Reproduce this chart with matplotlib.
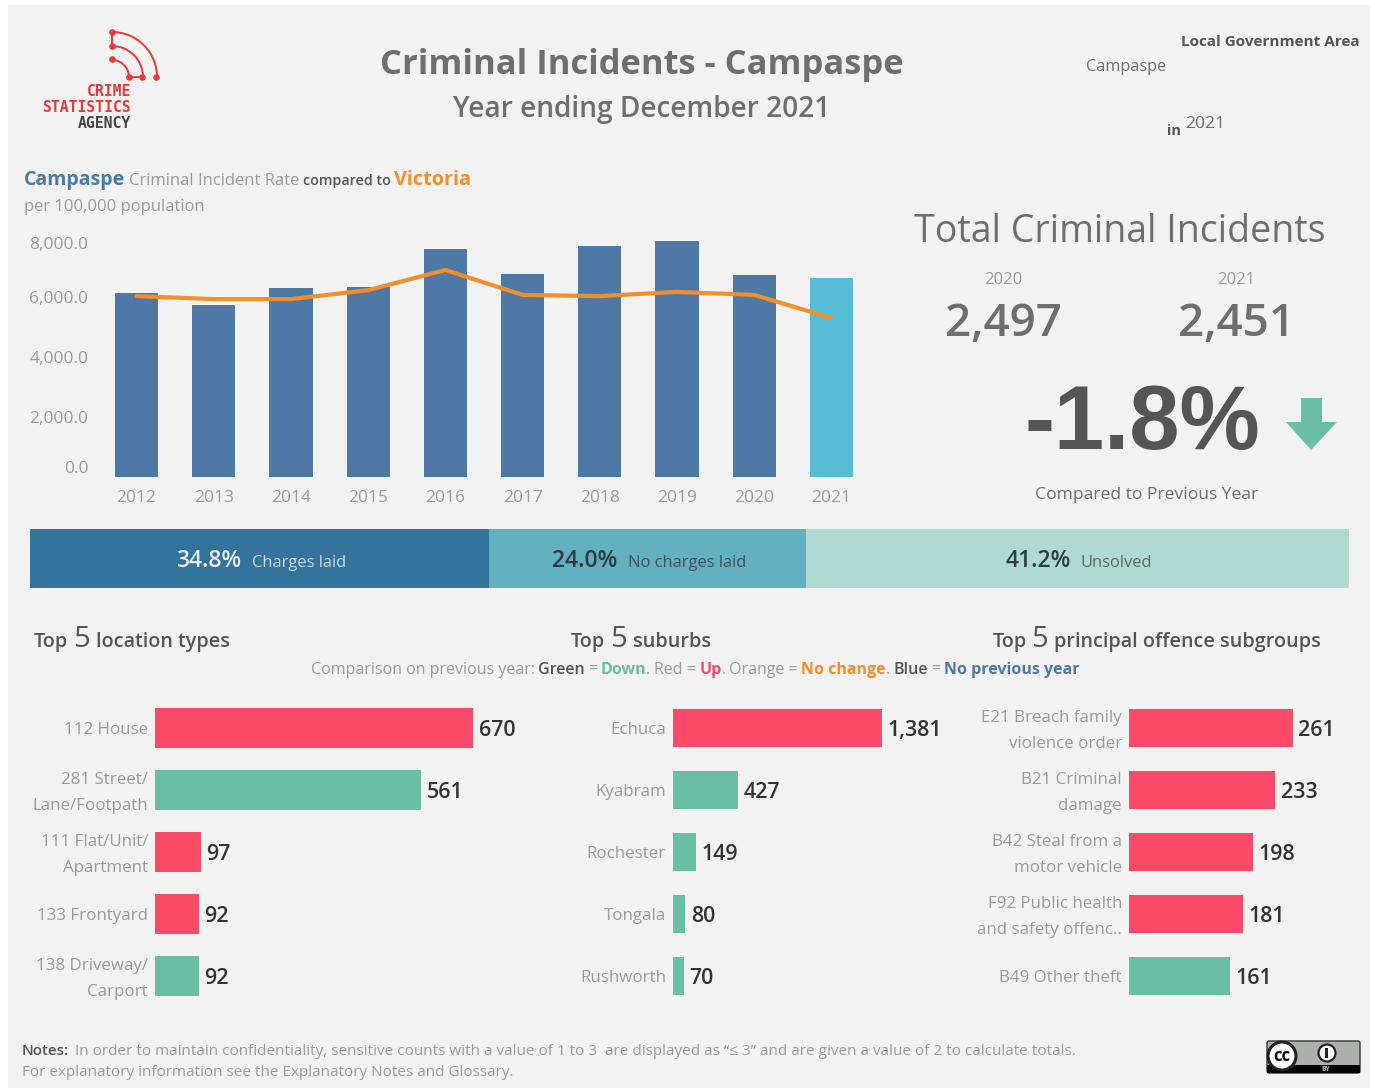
import matplotlib
matplotlib.use("Agg")
import matplotlib.pyplot as plt
from matplotlib.patches import Arc, Circle, FancyBboxPatch, Polygon, Rectangle
from matplotlib.transforms import ScaledTranslation

plt.rcParams["font.family"] = ["Open Sans", "DejaVu Sans"]

W, H = 1375, 1088
BG = "#F2F2F2"
BLUE = "#4E79A7"
CYAN = "#56BCD6"
ORANGE = "#F28E2B"
RED = "#F94A68"
GREEN = "#69BFA4"
DARK = "#555555"
MID = "#6E6E6E"
LIGHT = "#9A9A9A"

years = ["2012", "2013", "2014", "2015", "2016", "2017", "2018", "2019", "2020", "2021"]
campaspe_rate = [6130, 5730, 6300, 6330, 7600, 6770, 7700, 7870, 6730, 6630]
victoria_rate = [6030, 5930, 5930, 6230, 6900, 6070, 6030, 6170, 6070, 5300]
rate_ticks = [0, 2000, 4000, 6000, 8000]

outcome_names = ["Charges laid", "No charges laid", "Unsolved"]
outcome_share = [34.8, 24.0, 41.2]
outcome_colors = ["#33739C", "#63B0C0", "#AEDAD1"]

location_names = ["112 House", "281 Street/\nLane/Footpath", "111 Flat/Unit/\nApartment",
                  "133 Frontyard", "138 Driveway/\nCarport"]
location_counts = [670, 561, 97, 92, 92]
location_colors = [RED, GREEN, RED, RED, GREEN]

suburb_names = ["Echuca", "Kyabram", "Rochester", "Tongala", "Rushworth"]
suburb_counts = [1381, 427, 149, 80, 70]
suburb_colors = [RED, GREEN, GREEN, GREEN, GREEN]

offence_names = ["E21 Breach family\nviolence order", "B21 Criminal\ndamage",
                 "B42 Steal from a\nmotor vehicle", "F92 Public health\nand safety offenc..",
                 "B49 Other theft"]
offence_counts = [261, 233, 198, 181, 161]
offence_colors = [RED, RED, RED, RED, GREEN]


def px_axes(left, top, right, bottom):
    return fig.add_axes([left / W, 1 - bottom / H, (right - left) / W, (bottom - top) / H])


def runs(x, y, parts, anchor="left", gap=0.3):
    # one line of mixed styles, measured piece by piece
    r = fig.canvas.get_renderer()
    items = []
    total = 0
    for i, (txt, size, color, weight) in enumerate(parts):
        t = fg.text(0, y, txt, fontsize=size, color=color, fontweight=weight, va="baseline")
        w = t.get_window_extent(r).width
        # no gap in front of a full stop
        if i + 1 < len(parts) and parts[i + 1][0] != ".":
            w += size * gap
        items.append((t, w))
        total += w
    if anchor == "center":
        x = x - total / 2
    for t, w in items:
        t.set_x(x)
        x += w


fig = plt.figure(figsize=(W / 100, H / 100), dpi=100, facecolor="white")
bg = fig.add_axes([0, 0, 1, 1])
bg.set_xlim(0, W)
bg.set_ylim(H, 0)
bg.axis("off")
bg.add_patch(Rectangle((8, 5), 1362, 1083, color=BG, lw=0))
fg = fig.add_axes([0, 0, 1, 1], zorder=5)
fg.set_xlim(0, W)
fg.set_ylim(H, 0)
fg.axis("off")

# logo
LOGO = dict(fontsize=10.6, fontweight="bold", family="DejaVu Sans Mono", ha="right", va="center")
for rad in [45, 31, 17]:
    bg.add_patch(Arc((112, 77), 2 * rad, 2 * rad, theta1=270, theta2=360, color="#E8383A", lw=1.4))
bg.plot([112, 112], [32, 46], color="#E8383A", lw=1.4)
bg.plot([129, 142], [77, 77], color="#E8383A", lw=1.4)
bg.scatter([112, 112, 112, 129, 142, 156], [32, 46, 59, 77, 77, 77], s=14, color="#E8383A", zorder=3)
bg.text(131, 91, "CRIME", color="#E8383A", **LOGO)
bg.text(131, 108, "STATISTICS", color="#E8383A", **LOGO)
bg.text(131, 124, "AGENCY", color="#444444", **LOGO)

# header
bg.text(642, 65, "Criminal Incidents - Campaspe", fontsize=24.8, fontweight="bold", color=MID, ha="center", va="center")
bg.text(642, 109, "Year ending December 2021", fontsize=20.2, fontweight="semibold", color=MID, ha="center", va="center")
bg.text(1360, 42, "Local Government Area", fontsize=11, fontweight="bold", color=DARK, ha="right", va="center")
bg.text(1126, 67, "Campaspe", fontsize=11.7, color=MID, ha="center", va="center")
bg.text(1167, 131, "in", fontsize=10.5, fontweight="bold", color=DARK, va="center")
bg.text(1185, 124, "2021", fontsize=12.5, color=MID, va="center")

# rate chart heading
runs(24, 185, [("Campaspe", 14, BLUE, "bold"), ("Criminal Incident Rate", 12, LIGHT, "normal"),
               ("compared to", 10.3, DARK, "semibold"), ("Victoria", 14.3, ORANGE, "bold")])
bg.text(24, 207, "per 100,000 population", fontsize=12, color=LIGHT, va="center")

ax = px_axes(98, 237, 870, 477)
ax.set_facecolor("none")
bar_colors = [BLUE] * 9 + [CYAN]
ax.bar(years, campaspe_rate, width=0.557, color=bar_colors)
ax.plot(years, victoria_rate, color=ORANGE, lw=3, solid_joinstyle="round", solid_capstyle="round")
ax.set_xlim(-0.5, 9.5)
ax.set_ylim(0, 8000)
ax.set_yticks(rate_ticks, [f"{v:,.1f}" for v in rate_ticks])
ax.tick_params(length=0, labelsize=12.5, labelcolor=LIGHT)
ax.tick_params(axis="y", pad=7)
ax.tick_params(axis="x", pad=9)
ax.get_yticklabels()[0].set_va("bottom")
ax.get_yticklabels()[-1].set_va("top")
for s in ax.spines.values():
    s.set_visible(False)

# totals panel
bg.text(1120, 232, "Total Criminal Incidents", fontsize=27, color=MID, ha="center", va="center")
bg.text(1003, 280, "2020", fontsize=12, color=LIGHT, ha="center", va="center")
bg.text(1236, 280, "2021", fontsize=12, color=LIGHT, ha="center", va="center")
bg.text(1003, 325, "2,497", fontsize=33, fontweight="semibold", color=MID, ha="center", va="center")
bg.text(1237, 325, "2,451", fontsize=33, fontweight="semibold", color=MID, ha="center", va="center")
bg.text(1142, 426, "-1.8%", fontsize=65, fontweight="bold", family="Liberation Sans", color=DARK, ha="center", va="center")
bg.add_patch(Polygon([(1301, 398), (1322, 398), (1322, 422), (1337, 422), (1311, 450), (1286, 422), (1301, 422)],
                     color=GREEN, lw=0))
bg.text(1147, 495, "Compared to Previous Year", fontsize=12.6, color=MID, ha="center", va="center")

# outcome band
band = px_axes(30, 529, 1349, 588)
band.axis("off")
band.set_xlim(0, 100)
band.set_ylim(0, 1)
left = 0
for name, share, col in zip(outcome_names, outcome_share, outcome_colors):
    band.barh(0.5, share, left=left, height=1, color=col)
    left += share
label_cols = ["#E8EEF2", "#2F3B40", "#2F3B40"]
sub_cols = ["#C9D9E3", "#3F5358", "#5A6A66"]
centers = [261, 649, 1079]
for name, share, c, lc, sc in zip(outcome_names, outcome_share, centers, label_cols, sub_cols):
    runs(c, 567, [(f"{share:.1f}%", 16.5, lc, "semibold"), (name, 11.9, sc, "normal")], anchor="center", gap=0.6)

# top 5 headings
for cx, tail in [(132, "location types"), (641, "suburbs"), (1157, "principal offence subgroups")]:
    runs(cx, 647, [("Top", 14.2, DARK, "semibold"), ("5", 21, DARK, "normal"), (tail, 14.2, DARK, "semibold")], anchor="center")
runs(695, 674, [("Comparison on previous year:", 11.5, LIGHT, "normal"), ("Green", 11.5, DARK, "semibold"),
                ("=", 11.5, LIGHT, "normal"), ("Down", 11.5, GREEN, "bold"), (".", 11.5, LIGHT, "normal"),
                ("Red =", 11.5, LIGHT, "normal"), ("Up", 11.5, RED, "bold"), (".", 11.5, LIGHT, "normal"),
                ("Orange =", 11.5, LIGHT, "normal"), ("No change", 11.5, ORANGE, "bold"), (".", 11.5, LIGHT, "normal"),
                ("Blue", 11.5, DARK, "semibold"), ("=", 11.5, LIGHT, "normal"), ("No previous year", 11.5, BLUE, "bold")],
     anchor="center")

# top 5 bar charts
panels = [
    (location_names, location_counts, location_colors, 155, 0.4746, 0.65),
    (suburb_names, suburb_counts, suburb_colors, 673, 0.1513, 0.61),
    (offence_names, offence_counts, offence_colors, 1129, 0.628, 0.61),
]
for names, counts, cols, x0, scale, bar_h in panels:
    axb = px_axes(x0, 697, x0 + max(counts) * scale * 1.2, 1007)
    axb.set_facecolor("none")
    bars = axb.barh(range(len(names)), counts, height=bar_h, color=cols)
    axb.set_ylim(4.5, -0.5)
    axb.set_xlim(0, max(counts) * 1.2)
    axb.set_xticks([])
    axb.set_yticks(range(len(names)), names, linespacing=1.75)
    axb.tick_params(length=0, labelsize=12.2, labelcolor=LIGHT, pad=5)
    # two line labels sit a little high in the original
    nudge = ScaledTranslation(0, 3.5 / 100, fig.dpi_scale_trans)
    for lab in axb.get_yticklabels():
        if "\n" in lab.get_text():
            lab.set_transform(lab.get_transform() + nudge)
    vals = axb.bar_label(bars, labels=[f"{c:,}" for c in counts], padding=4, fontsize=15.4, color="#333333", fontweight="semibold")
    for v in vals:
        v.xyann = (v.xyann[0], -1.5)
    for s in axb.spines.values():
        s.set_visible(False)

# notes
runs(22, 1055, [("Notes:", 10.9, DARK, "semibold"),
                ("In order to maintain confidentiality, sensitive counts with a value of 1 to 3  are displayed as \u201c\u2264 3\u201d and are given a value of 2 to calculate totals.",
                 11.02, LIGHT, "normal")], gap=0.55)
bg.text(22, 1073, "For explanatory information see the Explanatory Notes and Glossary.", fontsize=10.95, color=LIGHT, va="center")

# cc badge
bg.add_patch(FancyBboxPatch((1267, 1041), 93, 32, boxstyle="round,pad=0,rounding_size=2", fc="#ABB1AA", ec="#333333", lw=1))
bg.add_patch(Rectangle((1267, 1065), 93, 8, color="black", lw=0))
bg.add_patch(Circle((1282, 1056), 14, fc="white", ec="#222222", lw=2.2))
bg.text(1282, 1056, "cc", fontsize=12, fontweight="bold", color="#111111", ha="center", va="center")
bg.add_patch(Circle((1327, 1053), 8.5, fc="white", ec="#222222", lw=1.6))
bg.add_patch(Rectangle((1325.5, 1048), 3, 10, color="#222222", lw=0))
bg.text(1326, 1069.5, "BY", fontsize=5, fontweight="bold", color="#BBBBBB", ha="center", va="center")

fig.savefig("out.png", dpi=100, facecolor=fig.get_facecolor())
